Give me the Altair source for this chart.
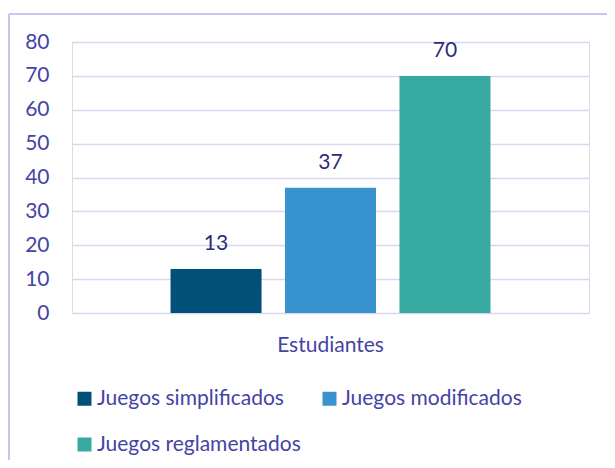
import altair as alt
import pandas as pd

categories = ["Estudiantes"]
series = ["Juegos simplificados", "Juegos modificados", "Juegos reglamentados"]
values = [13, 37, 70]
colors = ["#02507A", "#3993CF", "#36AAA0"]
y_ticks = [0, 10, 20, 30, 40, 50, 60, 70, 80]

df = pd.DataFrame({"cat": categories * 3, "serie": series, "valor": values})

FONT = "Lato"
FS = 21
TXT = "#4543A5"
LAB = "#2C2C7C"
GRID = "#D9D6F0"

x = alt.X("cat:N", title=None,
          scale=alt.Scale(paddingInner=0, paddingOuter=0.308),
          axis=alt.Axis(labelAngle=0, ticks=False, domain=False, labelPadding=21,
                        labelFont=FONT, labelFontSize=FS, labelColor=TXT))
xo = alt.XOffset("serie:N", sort=series,
                 scale=alt.Scale(paddingInner=0.205, paddingOuter=0))
y = alt.Y("valor:Q", title=None,
          scale=alt.Scale(domain=[0, 80], nice=False),
          axis=alt.Axis(values=y_ticks, ticks=False, domain=False, labelPadding=23,
                        labelFont=FONT, labelFontSize=FS, labelColor=TXT,
                        gridColor=GRID, gridWidth=1.5))

bars = alt.Chart(df).mark_bar().encode(
    x=x, xOffset=xo, y=y,
    color=alt.Color("serie:N", sort=series,
                    scale=alt.Scale(domain=series, range=colors),
                    legend=alt.Legend(title=None, orient="none", legendX=2, legendY=346,
                                      direction="horizontal",
                                      columns=2, symbolType="square", symbolSize=196,
                                      symbolStrokeWidth=0, labelFont=FONT, labelFontSize=FS,
                                      labelColor=TXT, labelOffset=2, columnPadding=18,
                                      rowPadding=24, labelLimit=400)),
)

text = alt.Chart(df).mark_text(font=FONT, fontSize=FS, color=LAB, baseline="middle", dy=-25).encode(
    x=x, xOffset=xo, y=y, text="valor:Q"
)

border_left = alt.Chart(df).mark_rule(color="#C9C5EC", strokeWidth=1.5).encode(
    x=alt.value(-63), y=alt.value(-28), y2=alt.value(500)
)
border_top = alt.Chart(df).mark_rule(color="#C9C5EC", strokeWidth=1.5).encode(
    x=alt.value(-63), x2=alt.value(600), y=alt.value(-28)
)

chart = alt.layer(bars, text, border_left, border_top).properties(
    width=517, height=271,
    autosize=alt.AutoSizeParams(type="none"),
    padding={"left": 64, "top": 34, "right": 18, "bottom": 147},
).configure_view(stroke=None).configure(background="white")

chart.save("out.html", embed_options={"renderer": "svg", "actions": False})
